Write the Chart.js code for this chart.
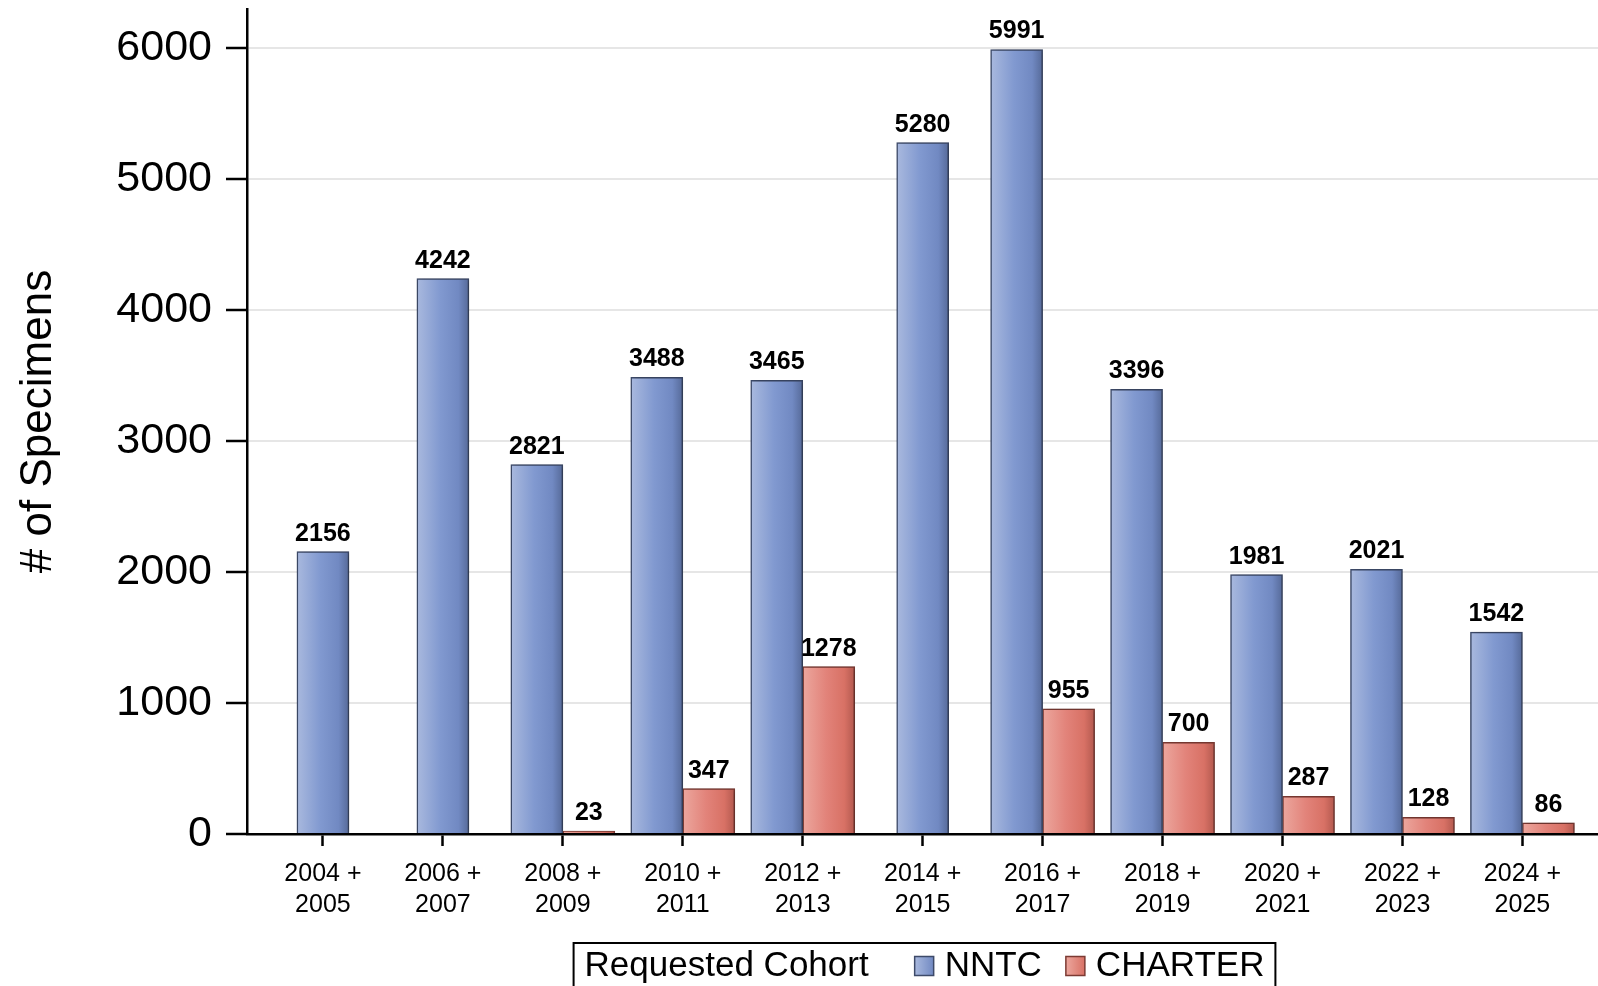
<!DOCTYPE html>
<html>
<head>
<meta charset="utf-8">
<script src="https://cdn.jsdelivr.net/npm/chart.js@4/dist/chart.umd.min.js"></script>
<style>
    html, body { margin: 0; padding: 0; background: #fff; }
    #wrap { width: 1598px; height: 986px; }
</style>
</head>
<body>
<div id="wrap"><canvas id="grafico"></canvas></div>
<script>
const periodos = [
    ["2004 +", "2005"], ["2006 +", "2007"], ["2008 +", "2009"], ["2010 +", "2011"],
    ["2012 +", "2013"], ["2014 +", "2015"], ["2016 +", "2017"], ["2018 +", "2019"],
    ["2020 +", "2021"], ["2022 +", "2023"], ["2024 +", "2025"]
];
const nntc = [2156, 4242, 2821, 3488, 3465, 5280, 5991, 3396, 1981, 2021, 1542];
const charter = [null, null, 23, 347, 1278, null, 955, 700, 287, 128, 86];
const yTicks = [0, 1000, 2000, 3000, 4000, 5000, 6000];

const cores = {
    NNTC: { stops: ["#a9b9de", "#8199d0", "#7189c2", "#566a99"], borda: "#3d4a69" },
    CHARTER: { stops: ["#eca79e", "#e2837a", "#d87165", "#b2594f"], borda: "#7c3a33" }
};

// gradiente + sombra leve em cada barra
const estiloBarras = {
    id: "estiloBarras",
    beforeDatasetsDraw(chart) {
        const ctx = chart.ctx;
        chart.data.datasets.forEach((ds, i) => {
            const c = cores[ds.label];
            chart.getDatasetMeta(i).data.forEach((el) => {
                if (el.x == null || isNaN(el.y)) return;
                const g = ctx.createLinearGradient(el.x - el.width / 2, 0, el.x + el.width / 2, 0);
                g.addColorStop(0, c.stops[0]);
                g.addColorStop(0.45, c.stops[1]);
                g.addColorStop(0.8, c.stops[2]);
                g.addColorStop(1, c.stops[3]);
                el.options = Object.assign({}, el.options, { backgroundColor: g });
            });
        });
        ctx.save();
        ctx.shadowColor = "rgba(0,0,0,0.28)";
        ctx.shadowBlur = 5;
        ctx.shadowOffsetX = 2;
        ctx.shadowOffsetY = 0;
    },
    afterDatasetsDraw(chart) {
        const ctx = chart.ctx;
        ctx.restore();
        // valores acima das barras
        ctx.save();
        ctx.font = "bold 25px 'Liberation Sans', Arial, sans-serif";
        ctx.fillStyle = "#000";
        ctx.textAlign = "center";
        ctx.textBaseline = "alphabetic";
        chart.data.datasets.forEach((ds, i) => {
            chart.getDatasetMeta(i).data.forEach((el, j) => {
                const v = ds.data[j].y;
                if (v == null) return;
                ctx.fillText(String(v), el.x, el.y - 11);
            });
        });
        ctx.restore();
    }
};

const legendaCaixa = {
    id: "legendaCaixa",
    afterDraw(chart) {
        const ctx = chart.ctx;
        const area = chart.chartArea;
        ctx.save();
        ctx.font = "35px 'Liberation Sans', Arial, sans-serif";
        const titulo = "Requested Cohort";
        const nomes = chart.data.datasets.map((d) => d.label);
        const wT = ctx.measureText(titulo).width;
        const wN = nomes.map((n) => ctx.measureText(n).width);
        const q = 19;
        const conteudo = wT + 46 + q + 11 + wN[0] + 24 + q + 11 + wN[1];
        const cx = (area.left + area.right) / 2;
        const x0 = cx - conteudo / 2 + 2;
        const topo = 943;
        const cy = 966;
        ctx.strokeStyle = "#000";
        ctx.lineWidth = 2;
        ctx.strokeRect(x0 - 11, topo, conteudo + 22, 60);
        ctx.fillStyle = "#000";
        ctx.textBaseline = "middle";
        ctx.fillText(titulo, x0, cy);
        let x = x0 + wT + 46;
        nomes.forEach((n, i) => {
            const c = cores[n];
            const g = ctx.createLinearGradient(x, 0, x + q, 0);
            g.addColorStop(0, c.stops[0]);
            g.addColorStop(1, c.stops[2]);
            ctx.fillStyle = g;
            ctx.fillRect(x, cy - q / 2, q, q);
            ctx.strokeStyle = c.borda;
            ctx.lineWidth = 1.5;
            ctx.strokeRect(x, cy - q / 2, q, q);
            ctx.fillStyle = "#000";
            ctx.fillText(n, x + q + 11, cy);
            x += q + 11 + wN[i] + 24;
        });
        ctx.restore();
    }
};

const semPadding = (s) => {
    s.paddingTop = 0;
    s.paddingBottom = 0;
    s.paddingLeft = 0;
    s.paddingRight = 0;
};

const ctx = document.getElementById("grafico").getContext("2d");
new Chart(ctx, {
    type: "bar",
    data: {
        datasets: [
            {
                label: "NNTC",
                data: nntc.map((v, i) => ({ x: i, y: v })),
                backgroundColor: "#7b93cb",
                borderColor: cores.NNTC.borda,
                borderWidth: 1.5,
                barThickness: 52,
                skipNull: true
            },
            {
                label: "CHARTER",
                data: charter.map((v, i) => ({ x: i, y: v })),
                backgroundColor: "#e07f72",
                borderColor: cores.CHARTER.borda,
                borderWidth: 1.5,
                barThickness: 52,
                skipNull: true
            }
        ]
    },
    options: {
        responsive: true,
        maintainAspectRatio: false,
        animation: false,
        layout: { padding: { top: 9, bottom: 43, left: 0, right: 0 } },
        plugins: {
            legend: { display: false },
            tooltip: { enabled: false }
        },
        scales: {
            x: {
                type: "linear",
                offset: false,
                min: -0.633,
                max: 10.63,
                afterBuildTicks: (s) => { s.ticks = periodos.map((p, i) => ({ value: i })); },
                afterFit: (s) => { s.height = 109; semPadding(s); },
                grid: { offset: false, drawOnChartArea: false, tickColor: "#000", tickWidth: 2.5, tickLength: 12 },
                border: { color: "#000", width: 2.5 },
                ticks: {
                    autoSkip: false,
                    maxRotation: 0,
                    padding: 13,
                    color: "#000",
                    font: { family: "'Liberation Sans', Arial, sans-serif", size: 25, lineHeight: 1.22 },
                    callback: (v) => periodos[v]
                }
            },
            y: {
                min: 0,
                max: 6300,
                afterBuildTicks: (s) => { s.ticks = yTicks.map((v) => ({ value: v })); },
                afterFit: (s) => { s.width = 247; semPadding(s); },
                grid: { color: "#e6e6e6", lineWidth: 2, tickColor: "#000", tickWidth: 2.5, tickLength: 21 },
                border: { color: "#000", width: 2.5 },
                ticks: {
                    padding: 14,
                    color: "#000",
                    font: { family: "'Liberation Sans', Arial, sans-serif", size: 43 },
                    callback: (v) => String(v)
                },
                title: {
                    display: true,
                    text: "# of Specimens",
                    color: "#000",
                    padding: { top: 12, bottom: 0 },
                    font: { family: "'Liberation Sans', Arial, sans-serif", size: 44 }
                }
            }
        }
    },
    plugins: [estiloBarras, legendaCaixa]
});
</script>
</body>
</html>
